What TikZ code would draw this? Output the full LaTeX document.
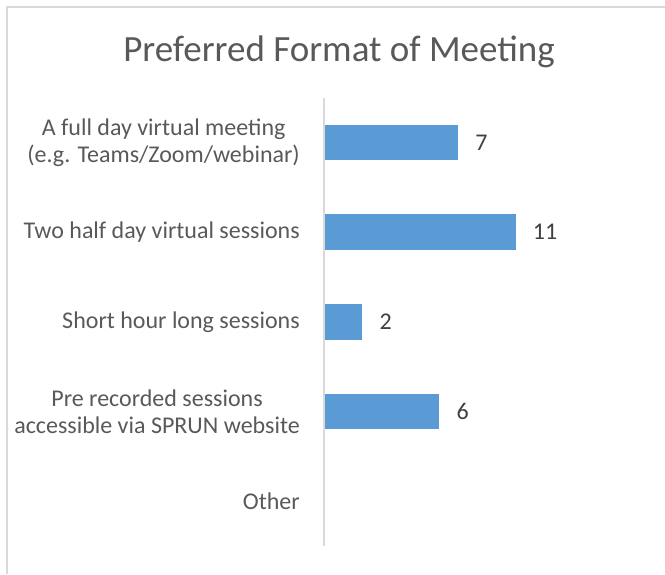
\documentclass[tikz,border=0pt]{standalone}
\usepackage{fontspec}
\setmainfont{Carlito}
\usetikzlibrary{positioning}
\definecolor{barblue}{HTML}{5B9BD5}
\definecolor{textgray}{HTML}{595959}
\definecolor{valgray}{HTML}{404040}
\definecolor{linegray}{HTML}{D9D9D9}
\tikzset{
    bar/.style={fill=barblue, draw=none, minimum height=35.6pt, inner sep=0pt, anchor=west},
    catlabel/.style={text=textgray, align=center, anchor=east, inner sep=0pt,
        font=\fontsize{24}{27.3}\selectfont},
    vallabel/.style={text=valgray, inner sep=0pt, font=\fontsize{24}{27.3}\selectfont}
}
\begin{document}
\begin{tikzpicture}[x=1pt, y=-1pt]
        \useasboundingbox (0,0) rectangle (665,574);

        % --- 枠 ---
        \draw[linegray, line width=1.5pt] (7,574) -- (7,7) -- (665,7);

        % --- タイトル ---
        \node[text=textgray, inner sep=0pt, font=\fontsize{37}{44}\selectfont] (title) at (339,52) {Preferred Format of Meeting};

        % --- 縦軸 ---
        \coordinate (axtop) at (324,97.6);
        \coordinate (axbot) at (324,546.2);
        \draw[linegray, line width=1.5pt] (axtop) -- (axbot);

        % --- 項目ラベル ---
        \foreach \i/\y/\label in {1/142.5/{A full day virtual meeting\\(e.g. Teams/Zoom/webinar)},
                                  2/232.2/{Two half day virtual sessions},
                                  3/321.9/{Short hour long sessions},
                                  4/411.6/{Pre recorded sessions\\accessible via SPRUN website},
                                  5/501.3/{Other}} {
            \node[catlabel] (cat\i) at (300,\y) {\label};
        }

        % --- 棒と値 ---
        \foreach \i/\y/\w/\v in {1/142.5/132.7/7, 2/232.2/190.3/11, 3/321.9/37/2, 4/411.6/114/6} {
            \node[bar, minimum width=\w pt] (bar\i) at (325,\y) {};
            \node[vallabel, right=17pt of bar\i.east] (val\i) {\v};
        }

    \end{tikzpicture}
\end{document}
